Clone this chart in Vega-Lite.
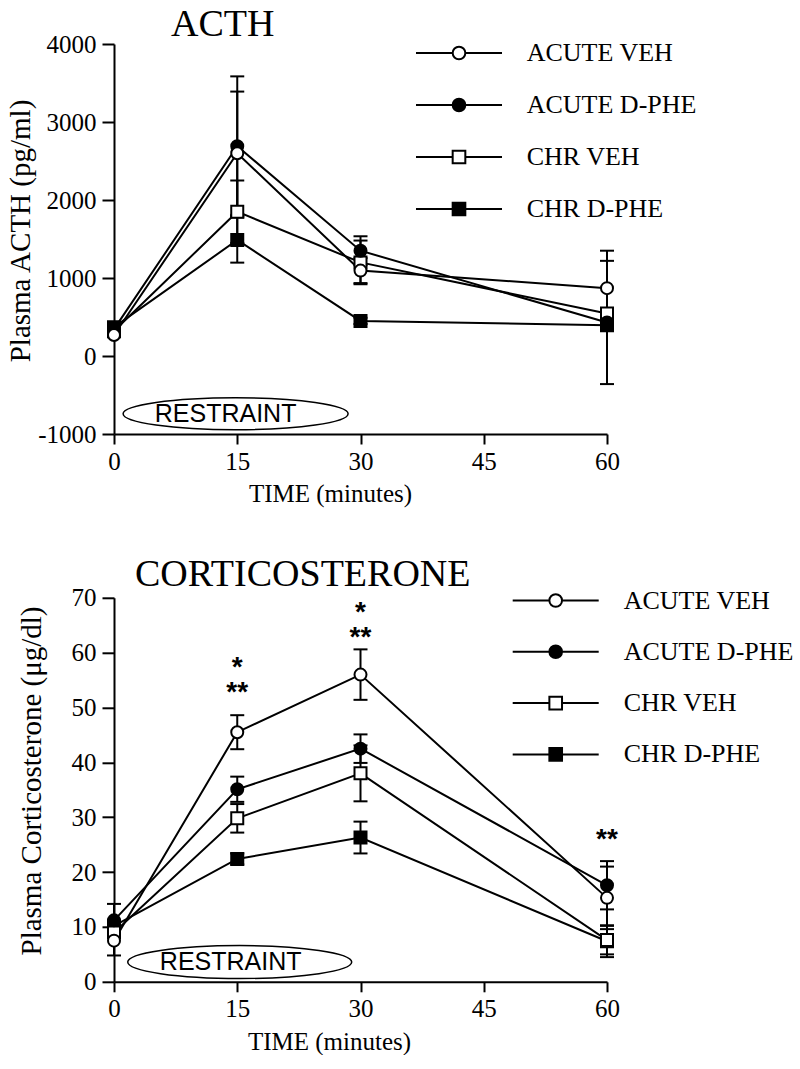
{
  "$schema": "https://vega.github.io/schema/vega-lite/v6.json",
  "background": "white",
  "padding": {"left": 6, "top": 6, "right": 0, "bottom": 0},
  "spacing": 163.8,
  "bounds": "flush",
  "resolve": {"scale": {"shape": "independent", "fill": "independent"}, "legend": {"shape": "independent", "fill": "independent"}},
  "config": {
    "view": {"stroke": null},
    "font": "Liberation Serif",
    "axis": {
      "domainColor": "black", "domainWidth": 2, "tickColor": "black", "tickWidth": 2,
      "grid": false, "labelFont": "Liberation Serif", "labelFontSize": 25, "labelColor": "black",
      "titleFont": "Liberation Serif", "titleFontWeight": "normal", "titleColor": "black",
      "labelFlush": false, "labelOverlap": false
    },
    "legend": {
      "title": null, "padding": 0, "labelFont": "Liberation Serif", "labelFontSize": 26, "labelColor": "black",
      "labelLimit": 400, "symbolSize": 160, "symbolStrokeWidth": 2, "symbolStrokeColor": "black"
    }
  },
  "datasets": {
    "acth": [
      {"series": "CHR D-PHE", "t": 0, "v": 370, "lo": 370, "hi": 370},
      {"series": "CHR D-PHE", "t": 15, "v": 1487, "lo": 1197, "hi": 1777},
      {"series": "CHR D-PHE", "t": 30, "v": 450, "lo": 410, "hi": 490},
      {"series": "CHR D-PHE", "t": 60, "v": 395, "lo": 345, "hi": 445},
      {"series": "CHR VEH", "t": 0, "v": 320, "lo": 320, "hi": 320},
      {"series": "CHR VEH", "t": 15, "v": 1850, "lo": 1450, "hi": 2250},
      {"series": "CHR VEH", "t": 30, "v": 1200, "lo": 920, "hi": 1480},
      {"series": "CHR VEH", "t": 60, "v": 545, "lo": 485, "hi": 605},
      {"series": "ACUTE D-PHE", "t": 0, "v": 345, "lo": 315, "hi": 375},
      {"series": "ACUTE D-PHE", "t": 15, "v": 2690, "lo": 1795, "hi": 3585},
      {"series": "ACUTE D-PHE", "t": 30, "v": 1350, "lo": 1165, "hi": 1535},
      {"series": "ACUTE D-PHE", "t": 60, "v": 430, "lo": -360, "hi": 1220},
      {"series": "ACUTE VEH", "t": 0, "v": 270, "lo": 240, "hi": 300},
      {"series": "ACUTE VEH", "t": 15, "v": 2600, "lo": 1810, "hi": 3390},
      {"series": "ACUTE VEH", "t": 30, "v": 1095, "lo": 935, "hi": 1255},
      {"series": "ACUTE VEH", "t": 60, "v": 870, "lo": 390, "hi": 1350}
    ],
    "cort": [
      {"series": "CHR D-PHE", "t": 0, "v": 10.2, "lo": 9.2, "hi": 11.2},
      {"series": "CHR D-PHE", "t": 15, "v": 22.4, "lo": 21.4, "hi": 23.4},
      {"series": "CHR D-PHE", "t": 30, "v": 26.3, "lo": 23.4, "hi": 29.2},
      {"series": "CHR D-PHE", "t": 60, "v": 7.4, "lo": 4.5, "hi": 10.3},
      {"series": "CHR VEH", "t": 0, "v": 9.0, "lo": 8.0, "hi": 10.0},
      {"series": "CHR VEH", "t": 15, "v": 29.8, "lo": 27.2, "hi": 32.4},
      {"series": "CHR VEH", "t": 30, "v": 38.0, "lo": 32.9, "hi": 43.1},
      {"series": "CHR VEH", "t": 60, "v": 7.6, "lo": 5.0, "hi": 10.2},
      {"series": "ACUTE D-PHE", "t": 0, "v": 11.2, "lo": 8.2, "hi": 14.2},
      {"series": "ACUTE D-PHE", "t": 15, "v": 35.1, "lo": 32.8, "hi": 37.4},
      {"series": "ACUTE D-PHE", "t": 30, "v": 42.5, "lo": 39.9, "hi": 45.1},
      {"series": "ACUTE D-PHE", "t": 60, "v": 17.6, "lo": 13.2, "hi": 22.0},
      {"series": "ACUTE VEH", "t": 0, "v": 7.5, "lo": 4.8, "hi": 10.2},
      {"series": "ACUTE VEH", "t": 15, "v": 45.5, "lo": 42.4, "hi": 48.6},
      {"series": "ACUTE VEH", "t": 30, "v": 56.0, "lo": 51.4, "hi": 60.6},
      {"series": "ACUTE VEH", "t": 60, "v": 15.3, "lo": 9.6, "hi": 21.0}
    ],
    "stars": [
      {"t": 15, "v": 58.2, "s": ["*", "**"]},
      {"t": 30, "v": 68.2, "s": ["*", "**"]},
      {"t": 60, "v": 26.8, "s": ["**"]}
    ]
  },
  "vconcat": [
    {
      "width": 493,
      "height": 390,
      "title": {"text": "ACTH", "anchor": "start", "frame": "group", "dx": 57, "fontSize": 38, "font": "Liberation Serif", "fontWeight": "normal", "baseline": "alphabetic", "offset": -42, "color": "black"},
      "resolve": {"scale": {"shape": "independent", "fill": "independent"}},
      "encoding": {
        "x": {"field": "t", "type": "quantitative", "scale": {"domain": [0, 60], "nice": false, "zero": false},
          "axis": {"values": [0, 15, 30, 45, 60], "title": "TIME (minutes)", "titleFontSize": 25, "titleX": 216, "titleY": 67.5, "titleBaseline": "alphabetic", "titleAlign": "center", "tickSize": 10, "labelPadding": 5}},
        "y": {"field": "v", "type": "quantitative", "title": "Plasma ACTH (pg/ml)", "scale": {"domain": [-1000, 4000], "nice": false, "zero": false},
          "axis": {"values": [-1000, 0, 1000, 2000, 3000, 4000], "labelExpr": "'' + datum.value", "titleFontSize": 29, "titleX": -94, "titleY": 186.5, "titleAngle": -90, "titleBaseline": "middle", "titleAlign": "center", "tickSize": 12, "labelPadding": 6}}
      },
      "layer": [
        {
          "data": {"values": [{"t": 14.8, "v": -740, "label": "RESTRAINT"}]},
          "mark": {"type": "point", "shape": "M-1,0A1,0.142,0,1,1,1,0A1,0.142,0,1,1,-1,0Z", "size": 50625, "filled": false, "stroke": "black", "strokeWidth": 1.5, "opacity": 1}
        },
        {
          "data": {"values": [{"t": 14.8, "v": -740, "label": "RESTRAINT"}]},
          "mark": {"type": "text", "font": "Liberation Sans", "fontSize": 25, "dx": -10, "baseline": "middle", "align": "center", "color": "black"},
          "encoding": {"text": {"field": "label"}}
        },
        {
          "data": {"name": "acth"},
          "mark": {"type": "rule", "color": "black", "strokeWidth": 2},
          "encoding": {"y": {"field": "lo", "type": "quantitative", "title": "Plasma ACTH (pg/ml)"}, "y2": {"field": "hi"}}
        },
        {
          "data": {"name": "acth"},
          "mark": {"type": "tick", "orient": "horizontal", "color": "black", "size": 14, "thickness": 2, "opacity": 1},
          "encoding": {"y": {"field": "lo", "type": "quantitative", "title": "Plasma ACTH (pg/ml)"}}
        },
        {
          "data": {"name": "acth"},
          "mark": {"type": "tick", "orient": "horizontal", "color": "black", "size": 14, "thickness": 2, "opacity": 1},
          "encoding": {"y": {"field": "hi", "type": "quantitative", "title": "Plasma ACTH (pg/ml)"}}
        },
        {
          "data": {"name": "acth"},
          "mark": {"type": "line", "color": "black", "strokeWidth": 2},
          "encoding": {"detail": {"field": "series"}}
        },
        {
          "data": {"name": "acth"},
          "mark": {"type": "point", "filled": true, "size": 144, "stroke": "black", "strokeWidth": 2, "opacity": 1},
          "encoding": {
            "shape": {"field": "series", "type": "nominal", "legend": null,
              "scale": {"domain": ["ACUTE VEH", "ACUTE D-PHE", "CHR VEH", "CHR D-PHE"], "range": ["circle", "circle", "square", "square"]}},
            "fill": {"field": "series", "type": "nominal", "legend": null,
              "scale": {"domain": ["ACUTE VEH", "ACUTE D-PHE", "CHR VEH", "CHR D-PHE"], "range": ["white", "black", "white", "black"]}}
          }
        },
        {
          "data": {"values": []},
          "mark": {"type": "point", "filled": true, "stroke": "black", "strokeWidth": 2, "opacity": 1},
          "encoding": {
            "shape": {"field": "series", "type": "nominal",
              "scale": {"domain": ["ACUTE VEH", "ACUTE D-PHE", "CHR VEH", "CHR D-PHE"],
                "range": ["M-6.8,0H-1M1,0H6.8M-1,0A1,1,0,1,0,1,0A1,1,0,1,0,-1,0Z", "M-6.8,0H-1M1,0H6.8M-1,0A1,1,0,1,0,1,0A1,1,0,1,0,-1,0Z", "M-6.8,0H-1M1,0H6.8M-1,-1H1V1H-1Z", "M-6.8,0H-1M1,0H6.8M-1,-1H1V1H-1Z"]},
              "legend": {"orient": "none", "legendX": 332, "legendY": -4, "labelOffset": 54.7, "rowPadding": 26,
                "encoding": {"symbols": {"stroke": {"value": "black"}, "strokeWidth": {"value": 2}}}}},
            "fill": {"field": "series", "type": "nominal",
              "scale": {"domain": ["ACUTE VEH", "ACUTE D-PHE", "CHR VEH", "CHR D-PHE"], "range": ["white", "black", "white", "black"]},
              "legend": {"orient": "none", "legendX": 332, "legendY": -4, "labelOffset": 54.7, "rowPadding": 26,
                "encoding": {"symbols": {"stroke": {"value": "black"}, "strokeWidth": {"value": 2}}}}}
          }
        }
      ]
    },
    {
      "width": 493,
      "height": 384,
      "title": {"text": "CORTICOSTERONE", "anchor": "start", "frame": "group", "dx": 21, "fontSize": 38, "font": "Liberation Serif", "fontWeight": "normal", "baseline": "alphabetic", "offset": -37.8, "color": "black"},
      "resolve": {"scale": {"shape": "independent", "fill": "independent"}},
      "encoding": {
        "x": {"field": "t", "type": "quantitative", "scale": {"domain": [0, 60], "nice": false, "zero": false},
          "axis": {"values": [0, 15, 30, 45, 60], "title": "TIME (minutes)", "titleFontSize": 25, "titleX": 215, "titleY": 67.5, "titleBaseline": "alphabetic", "titleAlign": "center", "tickSize": 10, "labelPadding": 5}},
        "y": {"field": "v", "type": "quantitative", "title": "Plasma Corticosterone (μg/dl)", "scale": {"domain": [0, 70], "nice": false, "zero": false},
          "axis": {"values": [0, 10, 20, 30, 40, 50, 60, 70], "labelExpr": "'' + datum.value", "titleFontSize": 29, "titleX": -83, "titleY": 182.7, "titleAngle": -90, "titleBaseline": "middle", "titleAlign": "center", "tickSize": 12, "labelPadding": 6}}
      },
      "layer": [
        {
          "data": {"values": [{"t": 15.3, "v": 3.6, "label": "RESTRAINT"}]},
          "mark": {"type": "point", "shape": "M-1,0A1,0.147,0,1,1,1,0A1,0.147,0,1,1,-1,0Z", "size": 50176, "filled": false, "stroke": "black", "strokeWidth": 1.5, "opacity": 1}
        },
        {
          "data": {"values": [{"t": 15.3, "v": 3.6, "label": "RESTRAINT"}]},
          "mark": {"type": "text", "font": "Liberation Sans", "fontSize": 25, "dx": -9, "baseline": "middle", "align": "center", "color": "black"},
          "encoding": {"text": {"field": "label"}}
        },
        {
          "data": {"name": "cort"},
          "mark": {"type": "rule", "color": "black", "strokeWidth": 2},
          "encoding": {"y": {"field": "lo", "type": "quantitative", "title": "Plasma Corticosterone (μg/dl)"}, "y2": {"field": "hi"}}
        },
        {
          "data": {"name": "cort"},
          "mark": {"type": "tick", "orient": "horizontal", "color": "black", "size": 14, "thickness": 2, "opacity": 1},
          "encoding": {"y": {"field": "lo", "type": "quantitative", "title": "Plasma Corticosterone (μg/dl)"}}
        },
        {
          "data": {"name": "cort"},
          "mark": {"type": "tick", "orient": "horizontal", "color": "black", "size": 14, "thickness": 2, "opacity": 1},
          "encoding": {"y": {"field": "hi", "type": "quantitative", "title": "Plasma Corticosterone (μg/dl)"}}
        },
        {
          "data": {"name": "cort"},
          "mark": {"type": "line", "color": "black", "strokeWidth": 2},
          "encoding": {"detail": {"field": "series"}}
        },
        {
          "data": {"name": "cort"},
          "mark": {"type": "point", "filled": true, "size": 144, "stroke": "black", "strokeWidth": 2, "opacity": 1},
          "encoding": {
            "shape": {"field": "series", "type": "nominal", "legend": null,
              "scale": {"domain": ["ACUTE VEH", "ACUTE D-PHE", "CHR VEH", "CHR D-PHE"], "range": ["circle", "circle", "square", "square"]}},
            "fill": {"field": "series", "type": "nominal", "legend": null,
              "scale": {"domain": ["ACUTE VEH", "ACUTE D-PHE", "CHR VEH", "CHR D-PHE"], "range": ["white", "black", "white", "black"]}}
          }
        },
        {
          "data": {"values": []},
          "mark": {"type": "point", "filled": true, "stroke": "black", "strokeWidth": 2, "opacity": 1},
          "encoding": {
            "shape": {"field": "series", "type": "nominal",
              "scale": {"domain": ["ACUTE VEH", "ACUTE D-PHE", "CHR VEH", "CHR D-PHE"],
                "range": ["M-6.8,0H-1M1,0H6.8M-1,0A1,1,0,1,0,1,0A1,1,0,1,0,-1,0Z", "M-6.8,0H-1M1,0H6.8M-1,0A1,1,0,1,0,1,0A1,1,0,1,0,-1,0Z", "M-6.8,0H-1M1,0H6.8M-1,-1H1V1H-1Z", "M-6.8,0H-1M1,0H6.8M-1,-1H1V1H-1Z"]},
              "legend": {"orient": "none", "legendX": 428.7, "legendY": -10.3, "labelOffset": 55, "rowPadding": 25.3,
                "encoding": {"symbols": {"stroke": {"value": "black"}, "strokeWidth": {"value": 2}}}}},
            "fill": {"field": "series", "type": "nominal",
              "scale": {"domain": ["ACUTE VEH", "ACUTE D-PHE", "CHR VEH", "CHR D-PHE"], "range": ["white", "black", "white", "black"]},
              "legend": {"orient": "none", "legendX": 428.7, "legendY": -10.3, "labelOffset": 55, "rowPadding": 25.3,
                "encoding": {"symbols": {"stroke": {"value": "black"}, "strokeWidth": {"value": 2}}}}}
          }
        },
        {
          "data": {"name": "stars"},
          "mark": {"type": "text", "font": "Liberation Sans", "fontSize": 28, "fontWeight": "bold", "baseline": "middle", "align": "center", "dy": 5, "lineHeight": 25, "color": "black"},
          "encoding": {"text": {"field": "s"}}
        }
      ]
    }
  ]
}
